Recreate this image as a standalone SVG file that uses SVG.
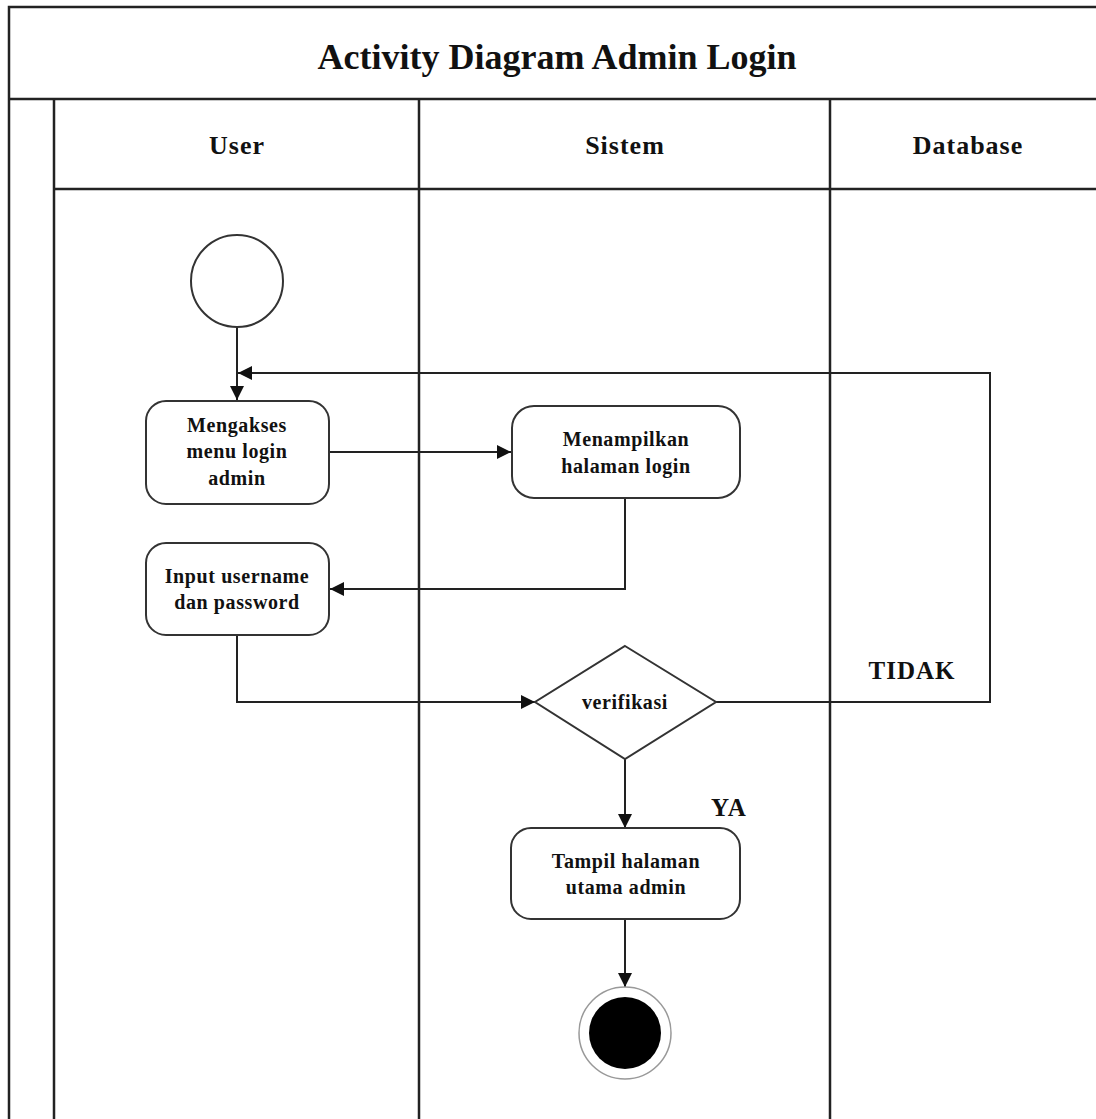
<svg xmlns="http://www.w3.org/2000/svg" width="1096" height="1119" viewBox="0 0 1096 1119">
<style>
.frame{fill:none;stroke:#222;stroke-width:2.5}
.node{fill:#fff;stroke:#333;stroke-width:2}
.edge{fill:none;stroke:#222;stroke-width:2}
text{font-family:"Liberation Serif","Times New Roman",serif;font-weight:bold;fill:#111;text-anchor:middle}
.title{font-size:36px}
.hdr{font-size:26px;letter-spacing:1px}
.lbl{font-size:20px;letter-spacing:0.6px}
.guard{font-size:25px;letter-spacing:1px}
</style>
<defs>
<marker id="arr" viewBox="0 0 10 10" refX="10" refY="5" markerWidth="14" markerHeight="14" markerUnits="userSpaceOnUse" orient="auto">
<path d="M0,0 L10,5 L0,10 z" fill="#111"/>
</marker>
</defs>
<rect width="1096" height="1119" fill="#fff"/>
<g id="swimlanes">
<path class="frame" d="M9,1119 V7 H1100"/>
<path class="frame" d="M9,99 H1100"/>
<path class="frame" d="M54,99 V1119"/>
<path class="frame" d="M54,189 H1100"/>
<path class="frame" d="M419,99 V1119"/>
<path class="frame" d="M830,99 V1119" stroke="#444"/>
<text class="title" x="557" y="69">Activity Diagram Admin Login</text>
<text class="hdr" x="237" y="154">User</text>
<text class="hdr" x="625" y="154">Sistem</text>
<text class="hdr" x="968" y="154">Database</text>
</g>
<g id="connectors">
<path class="edge" d="M237,327 V400" marker-end="url(#arr)"/>
<path class="edge" d="M716,702 H990 V373 H238" marker-end="url(#arr)"/>
<path class="edge" d="M329,452 H511" marker-end="url(#arr)"/>
<path class="edge" d="M625,498 V589 H330" marker-end="url(#arr)"/>
<path class="edge" d="M237,635 V702 H535" marker-end="url(#arr)"/>
<path class="edge" d="M625,759 V828" marker-end="url(#arr)"/>
<path class="edge" d="M625,919 V987" marker-end="url(#arr)"/>
<text class="guard" x="912" y="679">TIDAK</text>
<text class="guard" x="729" y="816">YA</text>
</g>
<g id="start">
<circle class="node" cx="237" cy="281" r="46" stroke-width="1.5"/>
</g>
<g id="mengakses">
<rect class="node" x="146" y="401" width="183" height="103" rx="20"/>
<text class="lbl" x="237" y="432">Mengakses</text>
<text class="lbl" x="237" y="458">menu login</text>
<text class="lbl" x="237" y="485">admin</text>
</g>
<g id="menampilkan">
<rect class="node" x="512" y="406" width="228" height="92" rx="22"/>
<text class="lbl" x="626" y="446">Menampilkan</text>
<text class="lbl" x="626" y="473">halaman login</text>
</g>
<g id="input">
<rect class="node" x="146" y="543" width="183" height="92" rx="20"/>
<text class="lbl" x="237" y="583">Input username</text>
<text class="lbl" x="237" y="609">dan password</text>
</g>
<g id="verifikasi">
<polygon class="node" points="625,646 716,702 625,759 535,702" stroke-width="1.5"/>
<text class="lbl" x="625" y="709">verifikasi</text>
</g>
<g id="tampil">
<rect class="node" x="511" y="828" width="229" height="91" rx="20"/>
<text class="lbl" x="626" y="868">Tampil halaman</text>
<text class="lbl" x="626" y="894">utama admin</text>
</g>
<g id="end">
<circle cx="625" cy="1033" r="46" fill="#fff" stroke="#999" stroke-width="1.5"/>
<circle cx="625" cy="1033" r="36" fill="#000"/>
</g>
</svg>
